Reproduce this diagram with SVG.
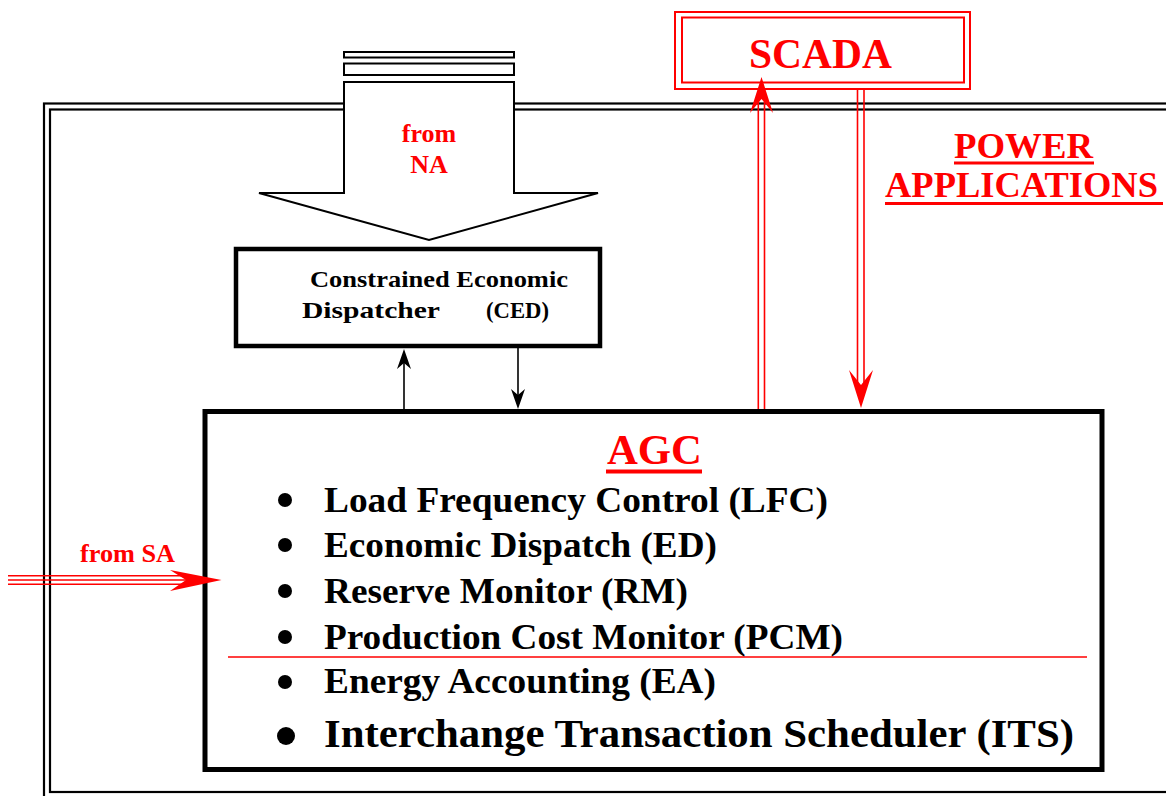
<svg xmlns="http://www.w3.org/2000/svg" width="1166" height="796" viewBox="0 0 1166 796">
<defs>
<style>
.t{font-family:"Liberation Serif","Times New Roman",serif;font-weight:bold}
.red{fill:#ff0000}
.blk{fill:#000}
.frame{fill:none;stroke:#000;stroke-width:2.2}
.rl{stroke:#ff0000;stroke-width:1.6;fill:none}
.bl{stroke:#000;stroke-width:1.6;fill:none}
</style>
</defs>
<rect width="1166" height="796" fill="#fff"/>
<g id="frame">
<rect class="frame" x="44" y="103.5" width="1200" height="720"/>
<rect class="frame" x="50" y="109.5" width="1200" height="682.5"/>
</g>
<g id="na-arrow">
<rect x="344" y="52" width="170" height="5.5" fill="#fff" stroke="#000" stroke-width="2"/>
<rect x="344" y="63.5" width="170" height="11.5" fill="#fff" stroke="#000" stroke-width="2"/>
<polygon points="344,82 514,82 514,193 598,193 429,240 259,193 344,193" fill="#fff" stroke="#000" stroke-width="2"/>
<text class="t red" x="429" y="142" font-size="26" text-anchor="middle">from</text>
<text class="t red" x="429" y="173" font-size="26" text-anchor="middle">NA</text>
</g>
<g id="scada">
<rect x="675" y="12" width="295" height="77" fill="#fff" stroke="#ff0000" stroke-width="2"/>
<rect x="682" y="17.5" width="282" height="65" fill="none" stroke="#ff0000" stroke-width="2"/>
<text class="t red" x="749" y="68" font-size="43" textLength="143" lengthAdjust="spacingAndGlyphs">SCADA</text>
</g>
<g id="power-applications">
<text class="t red" x="954" y="158" font-size="35" textLength="139" lengthAdjust="spacingAndGlyphs">POWER</text>
<rect x="954" y="161.5" width="140" height="3" fill="#ff0000"/>
<text class="t red" x="885" y="197" font-size="35" textLength="273" lengthAdjust="spacingAndGlyphs">APPLICATIONS</text>
<rect x="885" y="202" width="278" height="3" fill="#ff0000"/>
</g>
<g id="ced">
<rect x="236" y="249" width="364" height="97" fill="#fff" stroke="#000" stroke-width="4.5"/>
<text class="t blk" x="310" y="287" font-size="24" textLength="258" lengthAdjust="spacingAndGlyphs">Constrained Economic</text>
<text class="t blk" x="302" y="318" font-size="24" textLength="138" lengthAdjust="spacingAndGlyphs">Dispatcher</text>
<text class="t blk" x="486" y="318" font-size="24" textLength="63" lengthAdjust="spacingAndGlyphs">(CED)</text>
</g>
<g id="agc">
<rect x="205" y="411.5" width="897" height="358" fill="#fff" stroke="#000" stroke-width="5"/>
<text class="t red" x="607" y="464" font-size="42" textLength="95" lengthAdjust="spacingAndGlyphs">AGC</text>
<rect x="606" y="469.5" width="96" height="4" fill="#ff0000"/>
<circle cx="285" cy="500" r="7"/>
<text class="t blk" x="324" y="512" font-size="35" textLength="504" lengthAdjust="spacingAndGlyphs">Load Frequency Control (LFC)</text>
<circle cx="285" cy="545" r="7"/>
<text class="t blk" x="324" y="557" font-size="35" textLength="393" lengthAdjust="spacingAndGlyphs">Economic Dispatch (ED)</text>
<circle cx="285" cy="591" r="7"/>
<text class="t blk" x="324" y="603" font-size="35" textLength="364" lengthAdjust="spacingAndGlyphs">Reserve Monitor (RM)</text>
<circle cx="285" cy="637" r="7"/>
<text class="t blk" x="324" y="649" font-size="35" textLength="519" lengthAdjust="spacingAndGlyphs">Production Cost Monitor (PCM)</text>
<line x1="228" y1="657" x2="1087" y2="657" stroke="#ff0000" stroke-width="1.5"/>
<circle cx="285" cy="682" r="7"/>
<text class="t blk" x="324" y="693" font-size="35" textLength="392" lengthAdjust="spacingAndGlyphs">Energy Accounting (EA)</text>
<circle cx="286" cy="736" r="9"/>
<text class="t blk" x="324" y="747" font-size="40" textLength="750" lengthAdjust="spacingAndGlyphs">Interchange Transaction Scheduler (ITS)</text>
</g>
<g id="connectors">
<line class="bl" x1="404" y1="409" x2="404" y2="362"/>
<path d="M404,349 L411,369 L404,363 L397,369 Z" fill="#000"/>
<line class="bl" x1="518" y1="348" x2="518" y2="396"/>
<path d="M518,409 L511,389 L518,395 L525,389 Z" fill="#000"/>
<line class="rl" x1="758.3" y1="409" x2="758.3" y2="98"/>
<line class="rl" x1="764.5" y1="409" x2="764.5" y2="98"/>
<path d="M761.5,77 L773,113 L761.5,99 L750,113 Z" fill="#ff0000"/>
<line class="rl" x1="857.5" y1="90" x2="857.5" y2="392"/>
<line class="rl" x1="864" y1="90" x2="864" y2="392"/>
<path d="M861,408 L849,370 L861,385 L873,370 Z" fill="#ff0000"/>
<line class="rl" x1="8" y1="575.7" x2="190" y2="575.7"/>
<line class="rl" x1="8" y1="580" x2="190" y2="580"/>
<line class="rl" x1="8" y1="584.3" x2="190" y2="584.3"/>
<path d="M221.5,580 L170,570 L186,580 L170,591 Z" fill="#ff0000"/>
<text class="t red" x="80" y="561.5" font-size="26" textLength="95" lengthAdjust="spacingAndGlyphs">from SA</text>
</g>
</svg>
